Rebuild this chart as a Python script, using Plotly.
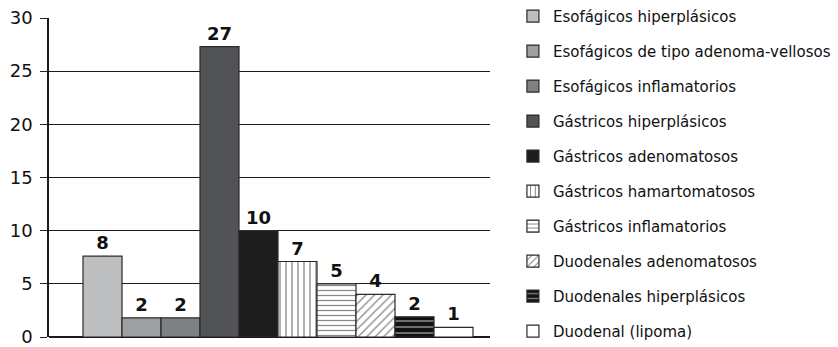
import plotly.graph_objects as go

categories = [
    "Esofágicos hiperplásicos",
    "Esofágicos de tipo adenoma-vellosos",
    "Esofágicos inflamatorios",
    "Gástricos hiperplásicos",
    "Gástricos adenomatosos",
    "Gástricos hamartomatosos",
    "Gástricos inflamatorios",
    "Duodenales adenomatosos",
    "Duodenales hiperplásicos",
    "Duodenal (lipoma)",
]
values = [7.6, 1.8, 1.8, 27.3, 10.0, 7.1, 5.0, 4.0, 1.9, 0.9]
labels = ["8", "2", "2", "27", "10", "7", "5", "4", "2", "1"]
y_ticks = [0, 5, 10, 15, 20, 25, 30]

colors = ["#bdbebf", "#9e9fa1", "#7f8083", "#525356", "#1e1d1e",
          "#ffffff", "#ffffff", "#ffffff", "#111111", "#ffffff"]
patterns = [
    dict(shape=""), dict(shape=""), dict(shape=""), dict(shape=""), dict(shape=""),
    dict(shape="|", fgcolor="#111111", bgcolor="#ffffff", size=6, solidity=0.22),
    dict(shape="-", fgcolor="#111111", bgcolor="#ffffff", size=5, solidity=0.25),
    dict(shape="/", fgcolor="#111111", bgcolor="#ffffff", size=6, solidity=0.22),
    dict(shape="-", fgcolor="#e0e0e0", bgcolor="#111111", size=6, solidity=0.3),
    dict(shape=""),
]

fig = go.Figure()
for i, (cat, val, lab) in enumerate(zip(categories, values, labels)):
    fig.add_trace(go.Bar(
        x=[i], y=[val], width=1, name=cat, legendgroup=cat,
        text=[lab], textposition="outside", cliponaxis=False,
        textfont=dict(family="DejaVu Sans", size=18, color="#111111", weight="bold"),
        marker=dict(color=colors[i], line=dict(color="#2a2a2a", width=1.2),
                    pattern=patterns[i]),
    ))

fig.update_layout(
    width=838, height=347,
    margin=dict(l=49, r=348, t=18, b=10, autoexpand=False),
    paper_bgcolor="white", plot_bgcolor="white",
    barmode="overlay",
    showlegend=True,
    font=dict(family="DejaVu Sans", color="#111111"),
    legend=dict(
        x=1.052, xanchor="left", y=1.057, yanchor="top",
        font=dict(family="DejaVu Sans", size=15, color="#111111"),
        tracegroupgap=12.5, traceorder="grouped",
        bgcolor="rgba(0,0,0,0)", maxheight=400,
    ),
)
fig.update_xaxes(
    range=[-1.372, 9.936], showticklabels=False, ticks="",
    showgrid=False, zeroline=False, showline=False,
)
fig.update_yaxes(
    range=[0, 30], tickvals=y_ticks, ticks="outside", ticklen=7,
    tickcolor="#222222", tickwidth=1.2,
    tickfont=dict(family="DejaVu Sans", size=18, color="#111111"),
    showgrid=True, gridcolor="#1a1a1a", gridwidth=1.2,
    showline=True, linecolor="#1a1a1a", linewidth=1.5,
    zeroline=True, zerolinecolor="#1a1a1a", zerolinewidth=1.5,
    ticklabelstandoff=4, ticklabeloverflow="allow",
)

fig.write_html("out.html")
